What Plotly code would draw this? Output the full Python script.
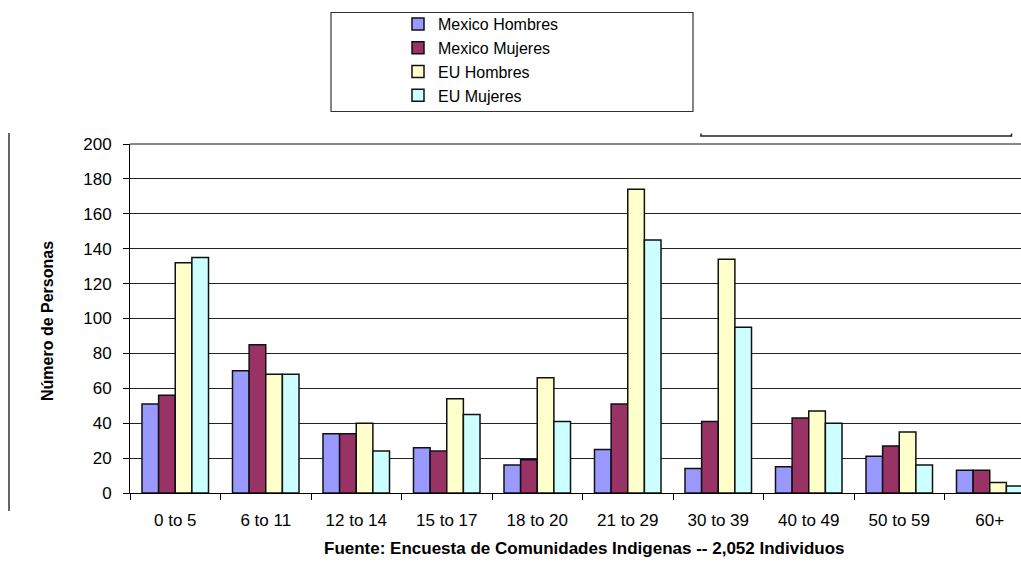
import plotly.graph_objects as go

# Age groups and head counts per group
age_groups = ["0 to 5", "6 to 11", "12 to 14", "15 to 17", "18 to 20",
              "21 to 29", "30 to 39", "40 to 49", "50 to 59", "60+"]
mexico_hombres = [51, 70, 34, 26, 16, 25, 14, 15, 21, 13]
mexico_mujeres = [56, 85, 34, 24, 19, 51, 41, 43, 27, 13]
eu_hombres = [132, 68, 40, 54, 66, 174, 134, 47, 35, 6]
eu_mujeres = [135, 68, 24, 45, 41, 145, 95, 40, 16, 4]
y_ticks = [0, 20, 40, 60, 80, 100, 120, 140, 160, 180, 200]

W, H = 1021, 562
PL, PR, PT, PB = 130, 1021, 144, 493  # plot area in pixels


def px(x):
    return (x - PL) / (PR - PL)


def py(y):
    return (PB - y) / (PB - PT)


FONT = "Liberation Sans, Arial, sans-serif"
series = [
    ("Mexico Hombres", mexico_hombres, "#9999FF"),
    ("Mexico Mujeres", mexico_mujeres, "#993366"),
    ("EU Hombres", eu_hombres, "#FFFFCC"),
    ("EU Mujeres", eu_mujeres, "#CCFFFF"),
]

fig = go.Figure()
for name, vals, color in series:
    fig.add_trace(go.Bar(
        name=name, x=age_groups, y=vals,
        marker=dict(color=color, line=dict(color="#111111", width=1.5)),
    ))

fig.update_layout(
    width=W, height=H, autosize=False,
    margin=dict(l=PL, r=W - PR, t=PT, b=H - PB, pad=0, autoexpand=False),
    paper_bgcolor="white", plot_bgcolor="white",
    barmode="group", bargap=0.265, bargroupgap=0,
    font=dict(family=FONT, color="black"),
    showlegend=True,
    legend=dict(
        xref="container", yref="container",
        x=398 / W, y=1 - 7 / H, xanchor="left", yanchor="top",
        font=dict(size=16, family=FONT, color="black"),
        bgcolor="rgba(0,0,0,0)", borderwidth=0,
        tracegroupgap=0, itemwidth=30,
    ),
    xaxis=dict(
        type="category", range=[-0.5, -0.5 + (PR - PL) / 90.5],
        tickson="boundaries", ticks="outside", ticklen=6, tickcolor="black",
        showline=True, linecolor="black", linewidth=1,
        showgrid=False, ticklabelstandoff=12, tickangle=0,
        automargin=False,
        tickfont=dict(size=17, family=FONT, color="black"),
    ),
    yaxis=dict(
        range=[0, 200], tickvals=y_ticks,
        ticks="outside", ticklen=6, tickcolor="black",
        showline=True, linecolor="black", linewidth=1,
        showgrid=True, gridcolor="#222222", gridwidth=1,
        zeroline=False, ticklabelstandoff=8, automargin=False,
        tickfont=dict(size=17, family=FONT, color="black"),
    ),
    annotations=[
        dict(text="<b>Número de Personas</b>", xref="paper", yref="paper",
             x=px(47), y=py(321), textangle=-90, showarrow=False,
             xanchor="center", yanchor="middle",
             font=dict(size=16, family=FONT, color="black")),
        dict(text="<b>Fuente: Encuesta de Comunidades Indigenas -- 2,052 Individuos</b>",
             xref="paper", yref="paper", x=px(584), y=py(548),
             showarrow=False, xanchor="center", yanchor="middle",
             font=dict(size=17, family=FONT, color="black")),
    ],
    shapes=[
        # legend frame
        dict(type="rect", xref="paper", yref="paper",
             x0=px(331), x1=px(693), y0=py(12.5), y1=py(111.5),
             line=dict(color="#333333", width=1.2), fillcolor="rgba(0,0,0,0)"),
        # top border of the plot area
        dict(type="line", xref="paper", yref="paper",
             x0=0, x1=1, y0=1, y1=1, line=dict(color="#888888", width=2)),
        # bracket line above the plot
        dict(type="path", xref="paper", yref="paper",
             path=f"M {px(701)},{py(133.5)} L {px(701)},{py(136)} L {px(1011.5)},{py(136)} L {px(1011.5)},{py(133.5)}",
             line=dict(color="#222222", width=1.5)),
        # left frame line
        dict(type="line", xref="paper", yref="paper",
             x0=px(9), x1=px(9), y0=py(133), y1=py(511),
             line=dict(color="#333333", width=1.5)),
    ],
)

fig.write_html("out.html")
